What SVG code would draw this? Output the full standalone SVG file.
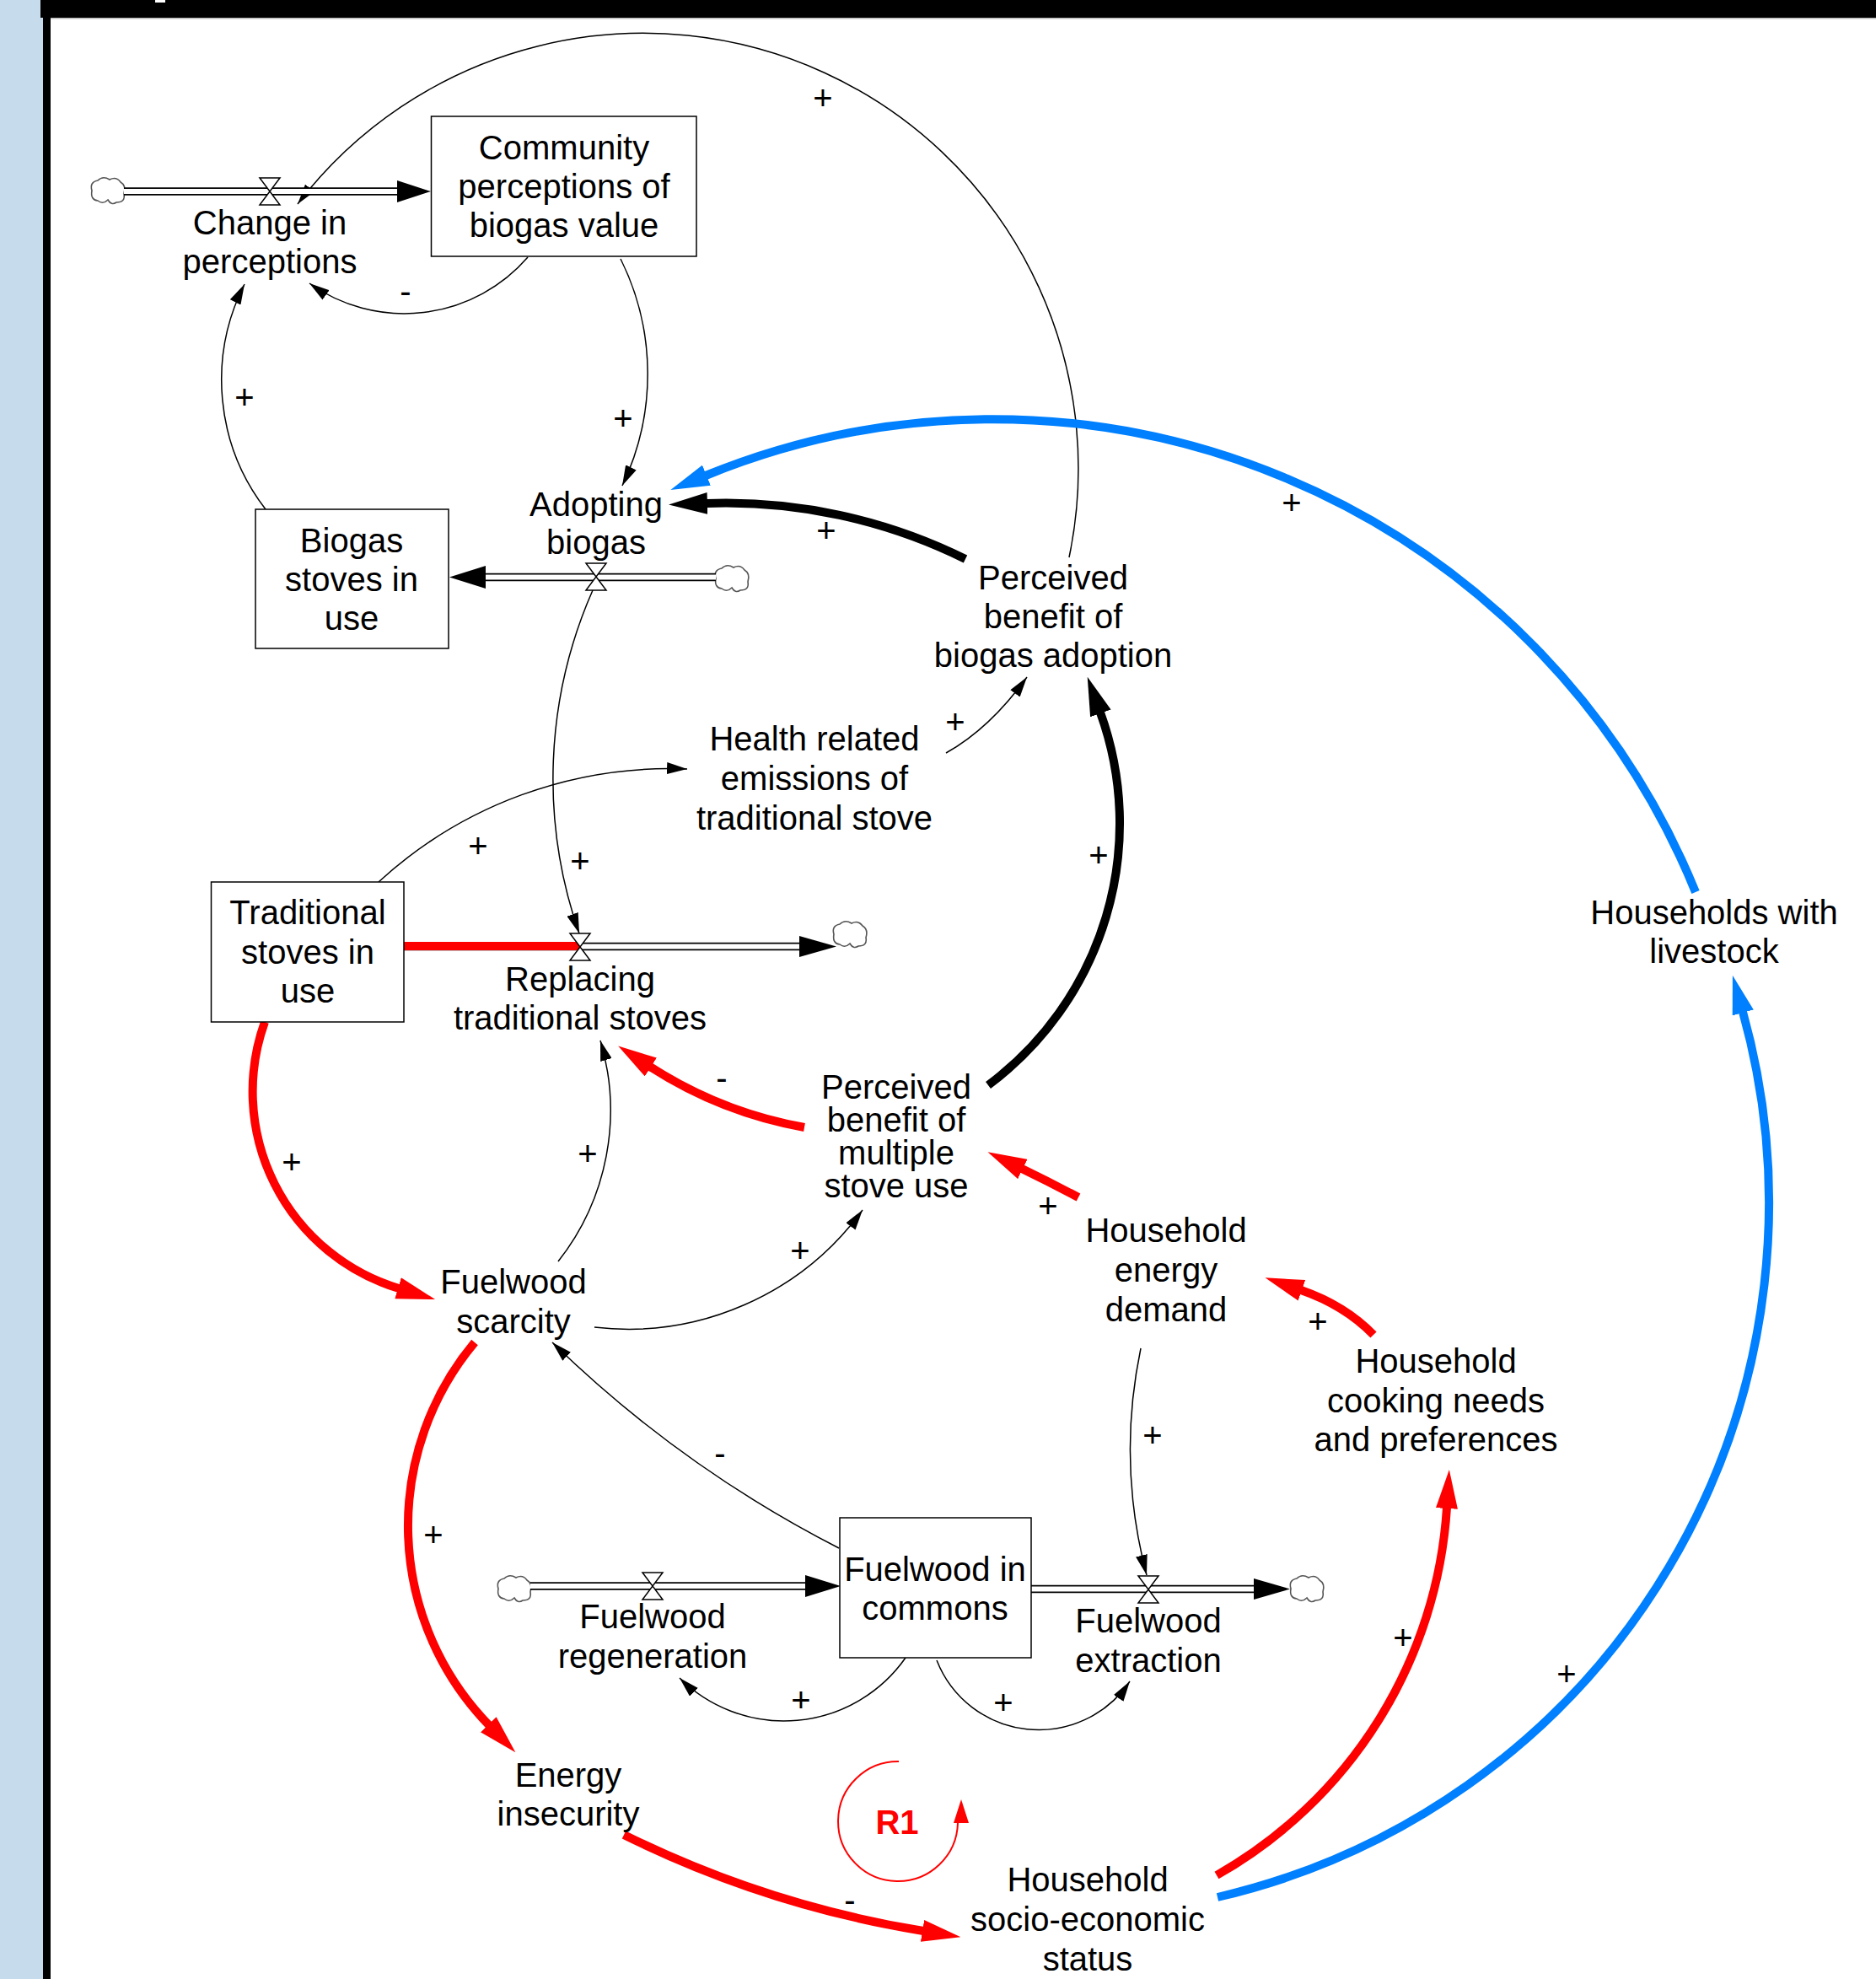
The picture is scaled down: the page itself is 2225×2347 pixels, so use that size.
<svg xmlns="http://www.w3.org/2000/svg" width="2225" height="2347" viewBox="0 0 2225 2347">
<style>
.t{font-family:"Liberation Sans",Arial,sans-serif;font-size:40px;text-anchor:middle;fill:#000}
.box{fill:#fff;stroke:#000;stroke-width:1.5}
.thin{fill:none;stroke:#000;stroke-width:1.5;marker-end:url(#aThin)}
.tk{fill:none;stroke:#000;stroke-width:10;marker-end:url(#aBlk)}
.tr{fill:none;stroke:#f00;stroke-width:10;marker-end:url(#aRed)}
.tb{fill:none;stroke:#0080ff;stroke-width:10;marker-end:url(#aBlu)}
.po{fill:none;stroke:#000;stroke-width:9.5}
.pi{fill:none;stroke:#fff;stroke-width:6}
.valve{fill:#fff;stroke:#000;stroke-width:1.5}
.cloud{fill:#fff;stroke:#555;stroke-width:1.6}
.fh{fill:#000}
</style>
<defs>
<marker id="aThin" markerUnits="userSpaceOnUse" viewBox="0 0 24 14" markerWidth="24" markerHeight="14" refX="24" refY="7" orient="auto"><path d="M0,0 L24,7 L0,14 Z" fill="#000"/></marker>
<marker id="aBlk" markerUnits="userSpaceOnUse" viewBox="0 0 46 26" markerWidth="46" markerHeight="26" refX="1" refY="13" orient="auto"><path d="M0,0 L46,13 L0,26 Z" fill="#000"/></marker>
<marker id="aRed" markerUnits="userSpaceOnUse" viewBox="0 0 46 26" markerWidth="46" markerHeight="26" refX="1" refY="13" orient="auto"><path d="M0,0 L46,13 L0,26 Z" fill="#f00"/></marker>
<marker id="aBlu" markerUnits="userSpaceOnUse" viewBox="0 0 46 26" markerWidth="46" markerHeight="26" refX="1" refY="13" orient="auto"><path d="M0,0 L46,13 L0,26 Z" fill="#0080ff"/></marker>
<path id="cloudShape" class="cloud" d="M-19,0 Q-22,-10 -12,-12 Q-6,-18 2,-13 Q10,-17 15,-10 Q22,-6 19,4 Q21,14 10,14 Q4,18 0,11 Q-6,17 -12,12 Q-21,11 -19,0 Z"/>
<path id="valveShape" class="valve" d="M-12,-16 H12 L-12,16 H12 Z"/>
</defs>

<!-- frame -->
<rect x="0" y="0" width="2225" height="2347" fill="#fff"/>
<rect x="0" y="0" width="51" height="2347" fill="#c6dcec"/>
<rect x="51" y="0" width="9" height="2347" fill="#000"/>
<rect x="48" y="0" width="2177" height="21" fill="#000"/>
<rect x="60" y="21" width="2165" height="1.5" fill="#bbb"/>
<rect x="184" y="0" width="12" height="3" fill="#fff"/>

<!-- connectors -->
<g id="connectors">
  <!-- thin links -->
  <path class="thin" d="M1268,661 A516,516 0 0 0 353,242"/>
  <path class="thin" d="M626,305 A194,194 0 0 1 367,336"/>
  <path class="thin" d="M315,604 A251,251 0 0 1 290,337"/>
  <path class="thin" d="M736,307 A306,306 0 0 1 738,576"/>
  <path class="thin" d="M1122,893 Q1174,864 1218,803"/>
  <path class="thin" d="M449,1046 A510,510 0 0 1 815,912"/>
  <path class="thin" d="M703,700 A555,555 0 0 0 687,1107"/>
  <path class="thin" d="M1074,1966 A176,176 0 0 1 806,1990"/>
  <path class="thin" d="M1111,1969 A130,130 0 0 0 1340,1994"/>
  <path class="thin" d="M1353,1599 A585,585 0 0 0 1360,1868"/>
  <path class="thin" d="M995,1836 A1408,1408 0 0 1 655,1592"/>
  <path class="thin" d="M662,1496 A289,289 0 0 0 712,1234"/>
  <path class="thin" d="M705,1574 A344,344 0 0 0 1023,1435"/>
  <!-- thick links -->
  <path class="tk" d="M1145,663 A640,640 0 0 0 838,597"/>
  <path class="tk" d="M1172,1287 A387,387 0 0 0 1305,845"/>
  <path class="tb" d="M2011,1058 A900,900 0 0 0 837,564"/>
  <path class="tb" d="M1444,2250 A845,845 0 0 0 2067,1200"/>
  <path class="tr" d="M314,1212 A244,244 0 0 0 473,1528"/>
  <path class="tr" d="M563,1592 A339,339 0 0 0 580,2046"/>
  <path class="tr" d="M740,2176 A1255,1255 0 0 0 1095,2290"/>
  <path class="tr" d="M1443,2224 A540,540 0 0 0 1716,1788"/>
  <path class="tr" d="M954,1337 A500,500 0 0 1 771,1265"/>
  <path class="tr" d="M1279,1420 Q1245,1402 1212,1386"/>
  <path class="tr" d="M1629,1583 Q1595,1548 1543,1530"/>
  <!-- polarity labels -->
  <g class="t">
    <text x="976" y="130">+</text>
    <text x="481" y="359">-</text>
    <text x="290" y="485">+</text>
    <text x="739" y="510">+</text>
    <text x="1532" y="610">+</text>
    <text x="980" y="643">+</text>
    <text x="1133" y="870">+</text>
    <text x="567" y="1017">+</text>
    <text x="688" y="1035">+</text>
    <text x="1303" y="1028">+</text>
    <text x="856" y="1292">-</text>
    <text x="346" y="1392">+</text>
    <text x="697" y="1382">+</text>
    <text x="949" y="1497">+</text>
    <text x="1243" y="1444">+</text>
    <text x="1563" y="1581">+</text>
    <text x="854" y="1737">-</text>
    <text x="1367" y="1716">+</text>
    <text x="514" y="1834">+</text>
    <text x="950" y="2030">+</text>
    <text x="1190" y="2033">+</text>
    <text x="1664" y="1956">+</text>
    <text x="1858" y="1999">+</text>
    <text x="1008" y="2267">-</text>
  </g>
</g>

<!-- flows -->
<g id="flow-change-in-perceptions">
  <use href="#cloudShape" x="128" y="226"/>
  <line class="po" x1="147" y1="227" x2="472" y2="227"/>
  <line class="pi" x1="147" y1="227" x2="473" y2="227"/>
  <polygon class="fh" points="471,214 511,227 471,240"/>
  <use href="#valveShape" x="320" y="227"/>
  <text class="t"><tspan x="320" y="278">Change in</tspan><tspan x="320" y="324">perceptions</tspan></text>
</g>
<g id="flow-adopting-biogas">
  <use href="#cloudShape" x="868" y="686"/>
  <line class="po" x1="849" y1="684.5" x2="575" y2="684.5"/>
  <line class="pi" x1="849" y1="684.5" x2="574" y2="684.5"/>
  <polygon class="fh" points="576,671 533,684.5 576,698"/>
  <use href="#valveShape" x="707" y="684"/>
  <text class="t"><tspan x="707" y="612">Adopting</tspan><tspan x="707" y="657">biogas</tspan></text>
</g>
<g id="flow-replacing-traditional-stoves">
  <use href="#cloudShape" x="1008" y="1108"/>
  <line class="po" x1="479" y1="1122.5" x2="949" y2="1122.5"/>
  <line class="pi" x1="479" y1="1122.5" x2="950" y2="1122.5"/>
  <line x1="479" y1="1122" x2="688" y2="1122" stroke="#f00" stroke-width="10"/>
  <polygon class="fh" points="948,1110 992,1122.5 948,1135"/>
  <use href="#valveShape" x="688" y="1123"/>
  <text class="t"><tspan x="688" y="1175">Replacing</tspan><tspan x="688" y="1221">traditional stoves</tspan></text>
</g>
<g id="flow-fuelwood-regeneration">
  <use href="#cloudShape" x="610" y="1884"/>
  <line class="po" x1="629" y1="1881" x2="956" y2="1881"/>
  <line class="pi" x1="629" y1="1881" x2="957" y2="1881"/>
  <polygon class="fh" points="955,1868 997,1881 955,1894"/>
  <use href="#valveShape" x="774" y="1881"/>
  <text class="t"><tspan x="774" y="1931">Fuelwood</tspan><tspan x="774" y="1978">regeneration</tspan></text>
</g>
<g id="flow-fuelwood-extraction">
  <use href="#cloudShape" x="1550" y="1884"/>
  <line class="po" x1="1223" y1="1884.5" x2="1488" y2="1884.5"/>
  <line class="pi" x1="1223" y1="1884.5" x2="1489" y2="1884.5"/>
  <polygon class="fh" points="1487,1872 1530,1884.5 1487,1897"/>
  <use href="#valveShape" x="1362" y="1885"/>
  <text class="t"><tspan x="1362" y="1936">Fuelwood</tspan><tspan x="1362" y="1983">extraction</tspan></text>
</g>

<!-- stocks -->
<g id="stock-community-perceptions">
  <rect class="box" x="511.5" y="138" width="314.5" height="166"/>
  <text class="t"><tspan x="669" y="189">Community</tspan><tspan x="669" y="235">perceptions of</tspan><tspan x="669" y="281">biogas value</tspan></text>
</g>
<g id="stock-biogas-stoves">
  <rect class="box" x="303" y="604" width="229" height="165"/>
  <text class="t"><tspan x="417" y="655">Biogas</tspan><tspan x="417" y="701">stoves in</tspan><tspan x="417" y="747">use</tspan></text>
</g>
<g id="stock-traditional-stoves">
  <rect class="box" x="250.5" y="1046" width="228.5" height="166"/>
  <text class="t"><tspan x="365" y="1096">Traditional</tspan><tspan x="365" y="1143">stoves in</tspan><tspan x="365" y="1189">use</tspan></text>
</g>
<g id="stock-fuelwood-commons">
  <rect class="box" x="996" y="1800" width="227" height="166"/>
  <text class="t"><tspan x="1109" y="1875">Fuelwood in</tspan><tspan x="1109" y="1921">commons</tspan></text>
</g>

<!-- auxiliaries -->
<g id="aux-perceived-benefit-biogas">
  <text class="t"><tspan x="1249" y="699">Perceived</tspan><tspan x="1249" y="745">benefit of</tspan><tspan x="1249" y="791">biogas adoption</tspan></text>
</g>
<g id="aux-health-emissions">
  <text class="t"><tspan x="966" y="890">Health related</tspan><tspan x="966" y="937">emissions of</tspan><tspan x="966" y="984">traditional stove</tspan></text>
</g>
<g id="aux-multiple-stove-use">
  <text class="t"><tspan x="1063" y="1303">Perceived</tspan><tspan x="1063" y="1342">benefit of</tspan><tspan x="1063" y="1381">multiple</tspan><tspan x="1063" y="1420">stove use</tspan></text>
</g>
<g id="aux-households-livestock">
  <text class="t"><tspan x="2033" y="1096">Households with</tspan><tspan x="2033" y="1142">livestock</tspan></text>
</g>
<g id="aux-energy-demand">
  <text class="t"><tspan x="1383" y="1473">Household</tspan><tspan x="1383" y="1520">energy</tspan><tspan x="1383" y="1567">demand</tspan></text>
</g>
<g id="aux-fuelwood-scarcity">
  <text class="t"><tspan x="609" y="1534">Fuelwood</tspan><tspan x="609" y="1581">scarcity</tspan></text>
</g>
<g id="aux-cooking-needs">
  <text class="t"><tspan x="1703" y="1628">Household</tspan><tspan x="1703" y="1675">cooking needs</tspan><tspan x="1703" y="1721">and preferences</tspan></text>
</g>
<g id="aux-energy-insecurity">
  <text class="t"><tspan x="674" y="2119">Energy</tspan><tspan x="674" y="2165">insecurity</tspan></text>
</g>
<g id="aux-socio-economic">
  <text class="t"><tspan x="1290" y="2243">Household</tspan><tspan x="1290" y="2290">socio-economic</tspan><tspan x="1290" y="2337">status</tspan></text>
</g>

<!-- loop marker -->
<g id="loop-R1">
  <path d="M1066,2089 A71,71 0 1 0 1136,2162" fill="none" stroke="#f00" stroke-width="2"/>
  <polygon points="1140,2134 1149,2162 1131,2162" fill="#f00"/>
  <text x="1064" y="2175" class="t" style="font-weight:bold;fill:#f00">R1</text>
</g>
</svg>
